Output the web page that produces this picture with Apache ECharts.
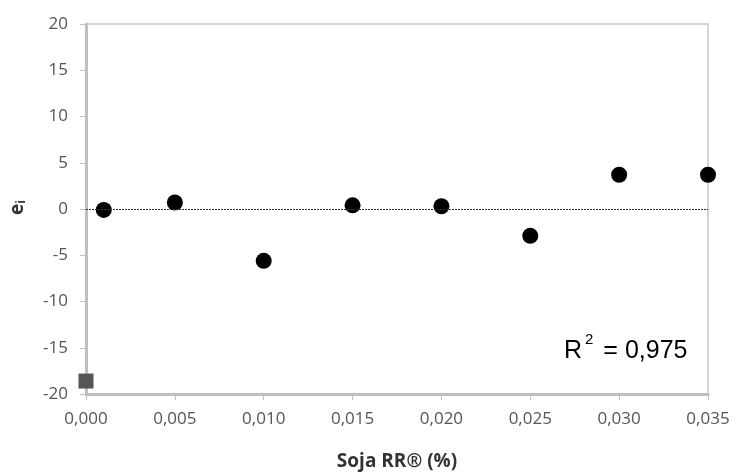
<!DOCTYPE html>
<html>
<head>
<meta charset="utf-8">
<script src="https://cdn.jsdelivr.net/npm/echarts@6/dist/echarts.min.js"></script>
<style>
  html, body { margin: 0; padding: 0; background: #fff; }
  #chart { width: 736px; height: 476px; }
</style>
</head>
<body>
<div id="chart"></div>
<script>
// dados dos resíduos
var xValues = [0.001, 0.005, 0.010, 0.015, 0.020, 0.025, 0.030, 0.035];
var residuals = [-0.1, 0.7, -5.6, 0.4, 0.3, -2.9, 3.7, 3.7];
var blankPoint = [[0, -18.6]];
var yTicks = [-20, 20, 5];
var xTicks = [0, 0.035, 0.005];
var r2Text = '0,975';

var myChart = echarts.init(document.getElementById('chart'));

var fontFam = '"Open Sans", "Noto Sans", sans-serif';

var option = {
    animation: false,
    grid: {
        left: 86, right: 28, top: 24, bottom: 81,
        show: true,
        borderColor: '#d4d4d4',
        borderWidth: 2
    },
    xAxis: {
        type: 'value',
        min: xTicks[0], max: xTicks[1], interval: xTicks[2],
        axisLine: { onZero: false, lineStyle: { color: '#bfbfbf', width: 3 } },
        axisTick: { show: true, length: 6, lineStyle: { color: '#bfbfbf' } },
        splitLine: { show: false },
        axisLabel: {
            color: '#555', fontSize: 17, fontFamily: fontFam, margin: 17,
            formatter: function (v) { return v.toFixed(3).replace('.', ','); }
        },
        name: 'Soja RR® (%)',
        nameLocation: 'middle',
        nameGap: 58,
        nameTextStyle: { color: '#333', fontSize: 19, fontWeight: 'bold', fontFamily: fontFam }
    },
    yAxis: {
        type: 'value',
        min: yTicks[0], max: yTicks[1], interval: yTicks[2],
        axisLine: { onZero: false, lineStyle: { color: '#bfbfbf', width: 3 } },
        axisTick: { show: true, length: 6, lineStyle: { color: '#bfbfbf' } },
        splitLine: { show: false },
        axisLabel: { color: '#555', fontSize: 17, fontFamily: fontFam, margin: 18 }
    },
    graphic: [
        {
            type: 'text',
            left: 8, top: 200,
            rotation: Math.PI / 2,
            style: {
                text: '{e|e}{i|i}',
                rich: {
                    e: { fontSize: 19, fontWeight: 'bold', fill: '#333', fontFamily: fontFam },
                    i: { fontSize: 12, fontWeight: 'bold', fill: '#333', fontFamily: fontFam, padding: [9, 0, 0, 0] }
                }
            }
        },
        {
            type: 'text',
            left: 564, top: 332,
            style: {
                text: '{r|R}{s|2}{r| = ' + r2Text + '}',
                rich: {
                    r: { fontSize: 25, fill: '#000', fontFamily: '"Liberation Sans", Arial, sans-serif', padding: [11, 0, 0, 0] },
                    s: { fontSize: 15, fill: '#000', fontFamily: '"Liberation Sans", Arial, sans-serif', padding: [0, 3, 12, 3] }
                }
            }
        }
    ],
    series: [
        {
            type: 'scatter',
            symbol: 'circle',
            symbolSize: 16,
            itemStyle: { color: '#000', opacity: 1 },
            data: xValues.map(function (x, i) { return [x, residuals[i]]; }),
            z: 3,
            markLine: {
                silent: true,
                symbol: 'none',
                label: { show: false },
                lineStyle: { color: '#333', type: [2, 1], width: 1 },
                data: [{ yAxis: 0 }]
            }
        },
        {
            type: 'scatter',
            symbol: 'rect',
            symbolSize: 15,
            itemStyle: { color: '#555', opacity: 1 },
            data: blankPoint
        }
    ]
};

myChart.setOption(option);
</script>
</body>
</html>
